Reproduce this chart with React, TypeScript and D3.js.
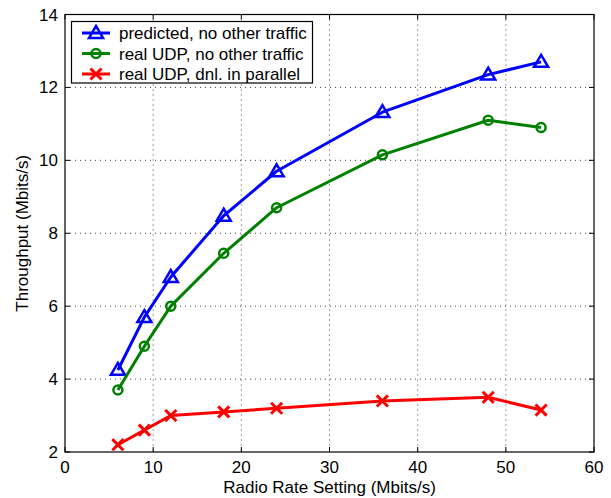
import { useMemo } from "react";
import * as d3 from "d3";

const rates = [6, 9, 12, 18, 24, 36, 48, 54];
const predicted = [4.25, 5.7, 6.8, 8.48, 9.7, 11.32, 12.35, 12.7];
const realUdp = [3.7, 4.9, 6.0, 7.45, 8.7, 10.15, 11.1, 10.9];
const realParallel = [2.2, 2.6, 3.0, 3.1, 3.2, 3.4, 3.5, 3.15];
const xTicks = [0, 10, 20, 30, 40, 50, 60];
const yTicks = [2, 4, 6, 8, 10, 12, 14];
const legendLabels = [
  "predicted, no other traffic",
  "real UDP, no other traffic",
  "real UDP, dnl. in parallel",
];

const W = 611;
const H = 498;
const M = { left: 65, right: 594, top: 14.5, bottom: 452 };
const FONT = "'Liberation Sans', Arial, Helvetica, sans-serif";
const FS = 17;

type Kind = "tri" | "circ" | "cross";

function Marker({ kind, x, y, color }: { kind: Kind; x: number; y: number; color: string }) {
  if (kind === "tri") {
    const s = 7;
    return (
      <path
        d={`M${x},${y - s} L${x + s},${y + s * 0.7} L${x - s},${y + s * 0.7} Z`}
        fill="none"
        stroke={color}
        strokeWidth={2.5}
        strokeLinejoin="miter"
      />
    );
  }
  if (kind === "circ") {
    return <circle cx={x} cy={y} r={4.5} fill="none" stroke={color} strokeWidth={2.5} />;
  }
  const s = 4.5;
  return (
    <path
      d={`M${x - s},${y - s} L${x + s},${y + s} M${x - s},${y + s} L${x + s},${y - s}`}
      stroke={color}
      strokeWidth={3}
      strokeLinecap="square"
    />
  );
}

export default function App() {
  const x = useMemo(() => d3.scaleLinear().domain([0, 60]).range([M.left, M.right]), []);
  const y = useMemo(() => d3.scaleLinear().domain([2, 14]).range([M.bottom, M.top]), []);

  const series = [
    { values: predicted, color: "#0000ff", kind: "tri" as Kind },
    { values: realUdp, color: "#008000", kind: "circ" as Kind },
    { values: realParallel, color: "#ff0000", kind: "cross" as Kind },
  ];

  const line = (vals: number[]) =>
    d3
      .line<number>()
      .x((_, i) => x(rates[i]))
      .y((d) => y(d))(vals) ?? "";

  const tickLen = 5;

  return (
    <svg width={W} height={H} style={{ position: "absolute", left: 0, top: 0 }} fontFamily={FONT}>
      <rect x={0} y={0} width={W} height={H} fill="#fff" />
      {/* grid */}
      {xTicks.slice(1, -1).map((t) => (
        <line key={"gx" + t} x1={x(t)} x2={x(t)} y1={M.top} y2={M.bottom} stroke="#444" strokeWidth={1} strokeDasharray="1,4" />
      ))}
      {yTicks.slice(1, -1).map((t) => (
        <line key={"gy" + t} x1={M.left} x2={M.right} y1={y(t)} y2={y(t)} stroke="#444" strokeWidth={1} strokeDasharray="1,4" />
      ))}
      {/* ticks */}
      {xTicks.map((t) => (
        <g key={"tx" + t}>
          <line x1={x(t)} x2={x(t)} y1={M.bottom} y2={M.bottom - tickLen} stroke="#000" />
          <line x1={x(t)} x2={x(t)} y1={M.top} y2={M.top + tickLen} stroke="#000" />
          <text x={x(t)} y={M.bottom + 21} textAnchor="middle" fontSize={FS}>
            {t}
          </text>
        </g>
      ))}
      {yTicks.map((t) => (
        <g key={"ty" + t}>
          <line x1={M.left} x2={M.left + tickLen} y1={y(t)} y2={y(t)} stroke="#000" />
          <line x1={M.right} x2={M.right - tickLen} y1={y(t)} y2={y(t)} stroke="#000" />
          <text x={M.left - 7} y={y(t) + 6} textAnchor="end" fontSize={FS}>
            {t}
          </text>
        </g>
      ))}
      <rect x={M.left} y={M.top} width={M.right - M.left} height={M.bottom - M.top} fill="none" stroke="#000" strokeWidth={1.2} />
      {/* series */}
      {series.map((s) => (
        <g key={s.color}>
          <path d={line(s.values)} fill="none" stroke={s.color} strokeWidth={3} strokeLinejoin="round" />
          {s.values.map((v, i) => (
            <Marker key={i} kind={s.kind} x={x(rates[i])} y={y(v)} color={s.color} />
          ))}
        </g>
      ))}
      {/* legend */}
      <g>
        <rect x={71.5} y={21.5} width={241} height={61.5} fill="#fff" stroke="#000" strokeWidth={1.2} />
        {series.map((s, i) => {
          const cy = 33 + i * 20.5;
          return (
            <g key={"lg" + i}>
              <line x1={82} x2={110} y1={cy} y2={cy} stroke={s.color} strokeWidth={3} />
              <Marker kind={s.kind} x={96} y={cy} color={s.color} />
              <text x={119} y={cy + 6} fontSize={FS}>
                {legendLabels[i]}
              </text>
            </g>
          );
        })}
      </g>
      {/* axis labels */}
      <text x={(M.left + M.right) / 2} y={493} textAnchor="middle" fontSize={FS}>
        Radio Rate Setting (Mbits/s)
      </text>
      <text transform={`translate(28,${(M.top + M.bottom) / 2}) rotate(-90)`} textAnchor="middle" fontSize={FS}>
        Throughput (Mbits/s)
      </text>
    </svg>
  );
}
